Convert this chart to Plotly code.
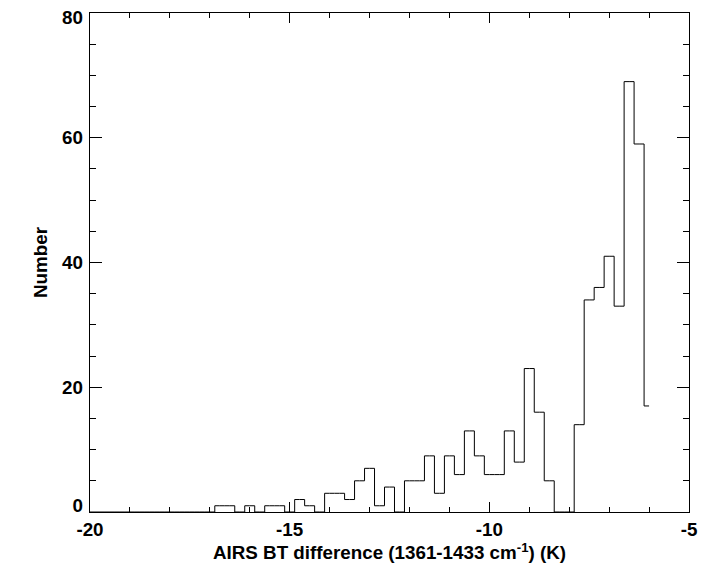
import numpy as np
import plotly.graph_objects as go

# Histogram of AIRS brightness-temperature differences, 0.25 K bins
bin_start = -20.0
bin_width = 0.25
counts = [
    0, 0, 0, 0, 0, 0, 0, 0, 0, 0, 0, 0, 0,          # -20.00 .. -17.00
    1, 1, 0, 1, 0, 1, 1, 0, 2, 1, 0, 3,             # -16.75 .. -14.00
    3, 2, 5, 7, 1, 4, 0, 5, 5, 9, 3, 9,             # -13.75 .. -11.00
    6, 13, 9, 6, 6, 13, 8, 23, 16, 5, 0, 0,         # -10.75 .. -8.00
    14, 34, 36, 41, 33, 69, 59, 17,                 # -7.75 .. -6.00
]
bin_centres = bin_start + bin_width * np.arange(len(counts))

x_ticks = [-20, -15, -10, -5]
y_ticks = [0, 20, 40, 60, 80]
y_tick_labels = ["0", "20", "40", "60", "80"]

# end labels are pulled inside the frame so they don't collide with the x labels
y_label_anchor = [1.1, 20, 40, 60, 79.35]

font_family = "Liberation Sans, Arial, Helvetica, sans-serif"
label_font = dict(family=font_family, size=18.8, color="black", weight="bold")

fig = go.Figure()
fig.add_trace(
    go.Scatter(
        x=bin_centres,
        y=counts,
        mode="lines",
        line=dict(shape="hvh", color="black", width=1),
        hoverinfo="x+y",
    )
)
# invisible companion trace so the label axis gets drawn
fig.add_trace(
    go.Scatter(
        x=bin_centres,
        y=counts,
        yaxis="y2",
        mode="lines",
        line=dict(shape="hvh", color="rgba(0,0,0,0)", width=0),
        hoverinfo="skip",
    )
)

fig.update_layout(
    width=704,
    height=565,
    margin=dict(l=90, r=15, t=13, b=53),
    paper_bgcolor="white",
    plot_bgcolor="white",
    showlegend=False,
    xaxis=dict(
        range=[-20, -5],
        automargin=False,
        tickvals=x_ticks,
        ticktext=[str(v) for v in x_ticks],
        ticks="inside",
        ticklen=10,
        tickwidth=1,
        tickcolor="black",
        showline=True,
        linecolor="black",
        linewidth=1,
        mirror="ticks",
        showgrid=False,
        zeroline=False,
        tickfont=label_font,
        ticklabelstandoff=0,
        minor=dict(dtick=1, ticks="inside", ticklen=5, tickcolor="black", tickwidth=1, showgrid=False),
        title=dict(text="AIRS BT difference (1361-1433 cm<sup>-1</sup>) (K)", font=label_font, standoff=3),
    ),
    yaxis=dict(
        range=[0, 80],
        automargin=False,
        tickvals=y_ticks,
        ticks="inside",
        ticklen=12,
        tickwidth=1,
        tickcolor="black",
        showline=True,
        linecolor="black",
        linewidth=1,
        mirror="ticks",
        showgrid=False,
        zeroline=False,
        showticklabels=False,
        minor=dict(dtick=5, ticks="inside", ticklen=6, tickcolor="black", tickwidth=1, showgrid=False),
    ),
    # label-only companion axis carrying the y tick labels and title
    yaxis2=dict(
        overlaying="y",
        side="left",
        range=[0, 80],
        automargin=False,
        tickvals=y_label_anchor,
        ticktext=y_tick_labels,
        ticks="",
        showline=False,
        showgrid=False,
        zeroline=False,
        tickfont=label_font,
        ticklabelstandoff=6,
        title=dict(text="Number", font=label_font, standoff=9),
    ),
)

fig.write_html("out.html")
